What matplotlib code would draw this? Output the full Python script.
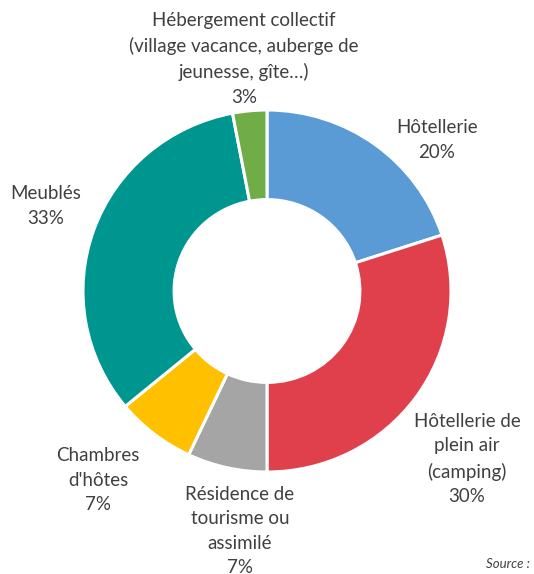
import matplotlib
matplotlib.use("Agg")
import matplotlib.pyplot as plt

categories = ["Hôtellerie", "Hôtellerie de\nplein air\n(camping)", "Résidence de\ntourisme ou\nassimilé",
              "Chambres\nd'hôtes", "Meublés",
              "Hébergement collectif\n(village vacance, auberge de\njeunesse, gîte…)"]
values = [20, 30, 7, 7, 33, 3]
colors = ["#5B9BD5", "#E0404B", "#A5A5A5", "#FFC000", "#009690", "#70AD47"]

W, H = 534, 574
SY = 184 / 181  # slight vertical squash of the ring, as in the reference
fig = plt.figure(figsize=(W / 100, H / 100), dpi=100)
ax = fig.add_axes([0, 0, 1, 1])


def py(y):
    return (H - y) * SY


cx, cy, R = 267, py(291), 184
ax.pie(values, colors=colors, startangle=90, counterclock=False,
       center=(cx, cy), radius=R, frame=True,
       wedgeprops=dict(width=R * 0.495, edgecolor="white", linewidth=2.2))
ax.set_aspect("auto")
ax.set_xlim(0, W)
ax.set_ylim(0, H * SY)
ax.axis("off")

# label anchor positions (pixels, top-left origin)
label_pos = [(437, 140), (467, 459), (240, 531), (98, 480), (46, 206), (244, 59)]
font = dict(family=["Lato", "DejaVu Sans"], fontsize=13.5, color="#404040",
            ha="center", va="center", linespacing=1.53)
for cat, v, (x, y) in zip(categories, values, label_pos):
    ax.text(x, py(y), f"{cat}\n{v}%", **font)

ax.text(530, py(564), "Source :", family=["Lato", "DejaVu Sans"], fontsize=9.5,
        style="italic", color="#404040", ha="right", va="center")

fig.savefig("out.png", dpi=100)
